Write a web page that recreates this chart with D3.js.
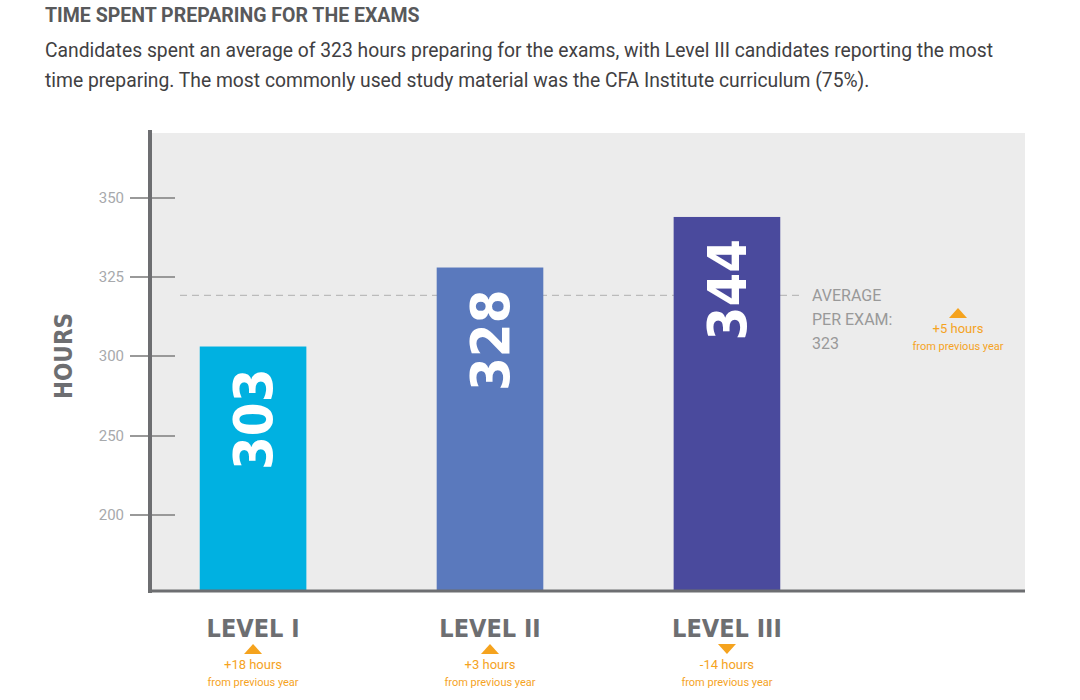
<!DOCTYPE html>
<html><head><meta charset="utf-8">
<script src="https://cdn.jsdelivr.net/npm/d3@7"></script>
<style>body{margin:0;background:#fff;font-family:Roboto,"Noto Sans",sans-serif}</style>
</head><body><svg id="c" width="1080" height="700"></svg>
<script>
var levels = ["LEVEL I", "LEVEL II", "LEVEL III"];
var hours = [303, 328, 344];
var changes = ["+18 hours", "+3 hours", "-14 hours"];
var directions = ["up", "up", "down"];
var ticks = [200, 250, 300, 325, 350];
var average = 323;
var colors = ["#00b1e1", "#5a79bd", "#4a4a9d"];

var svg = d3.select("#c");
var orange = "#f5a31e", gray = "#6d6e71";

// broken axis: ticks are evenly spaced though values are not
var y = d3.scaleLinear().domain(ticks).range([515, 436, 356, 277, 198]);
var x = d3.scaleBand().domain(levels).range([140.5, 839.5]).paddingInner(0.55).paddingOuter(0.25);
var bottom = 590;

svg.append("text").attr("x", 45).attr("y", 22).attr("fill", "#58595b")
  .style("font-size", "19.5px").style("font-weight", "bold").text("TIME SPENT PREPARING FOR THE EXAMS");
svg.append("text").attr("x", 45).attr("y", 57).attr("fill", "#414042").style("font-size", "19.3px")
  .text("Candidates spent an average of 323 hours preparing for the exams, with Level III candidates reporting the most");
svg.append("text").attr("x", 45).attr("y", 87).attr("fill", "#414042").style("font-size", "19.3px")
  .text("time preparing. The most commonly used study material was the CFA Institute curriculum (75%).");

svg.append("rect").attr("x", 150).attr("y", 133).attr("width", 875).attr("height", bottom - 133).attr("fill", "#ececec");

var tg = svg.append("g").selectAll("g").data(ticks).join("g");
tg.append("line").attr("x1", 130).attr("x2", 175).attr("y1", d => y(d)).attr("y2", d => y(d))
  .attr("stroke", "#999").attr("stroke-width", 2);
tg.append("text").attr("x", 124).attr("y", d => y(d) + 5).attr("text-anchor", "end")
  .attr("fill", "#a7a9ac").style("font-size", "15px").text(d => d);

svg.append("line").attr("x1", 180).attr("x2", 802).attr("y1", y(average) + 12).attr("y2", y(average) + 12)
  .attr("stroke", "#bbb").attr("stroke-width", 1.2).attr("stroke-dasharray", "7,5");

svg.selectAll(".bar").data(hours).join("rect")
  .attr("x", (d, i) => x(levels[i])).attr("width", x.bandwidth())
  .attr("y", d => y(d)).attr("height", d => bottom - y(d)).attr("fill", (d, i) => colors[i]);

svg.selectAll(".val").data(hours).join("text")
  .attr("transform", (d, i) => "translate(" + (x(levels[i]) + x.bandwidth() / 2 + 19) + "," + (y(d) + 22) + ") rotate(-90)")
  .attr("text-anchor", "end").attr("fill", "#fff").style("font-size", "54px").style("font-weight", "bold")
  .style("font-family", "'Liberation Sans Narrow','DejaVu Sans Condensed',Roboto").text(d => d);

svg.append("line").attr("x1", 150).attr("x2", 150).attr("y1", 130).attr("y2", 593).attr("stroke", gray).attr("stroke-width", 4);
svg.append("line").attr("x1", 148).attr("x2", 1025).attr("y1", 591).attr("y2", 591).attr("stroke", gray).attr("stroke-width", 3);

svg.append("text").attr("transform", "translate(72,356) rotate(-90)").attr("text-anchor", "middle")
  .attr("fill", gray).style("font-size", "24px").style("font-weight", "bold")
  .style("font-family", "'DejaVu Sans Condensed',Roboto").text("HOURS");

function tri(cx, cy, dir) {
  var p = dir === "up" ? [[cx - 9, cy + 5], [cx + 9, cy + 5], [cx, cy - 5]] : [[cx - 9, cy - 5], [cx + 9, cy - 5], [cx, cy + 5]];
  svg.append("path").attr("d", d3.line()(p) + "Z").attr("fill", orange);
}

levels.forEach(function (l, i) {
  var cx = x(l) + x.bandwidth() / 2;
  svg.append("text").attr("x", cx).attr("y", 637).attr("text-anchor", "middle").attr("fill", gray)
    .style("font-size", "25px").style("font-weight", "bold").style("font-family", "'DejaVu Sans Condensed',Roboto").text(l);
  tri(cx, 649, directions[i]);
  svg.append("text").attr("x", cx).attr("y", 669).attr("text-anchor", "middle").attr("fill", orange).style("font-size", "13px").text(changes[i]);
  svg.append("text").attr("x", cx).attr("y", 686).attr("text-anchor", "middle").attr("fill", orange).style("font-size", "11px").text("from previous year");
});

["AVERAGE", "PER EXAM:", "" + average].forEach(function (t, i) {
  svg.append("text").attr("x", 812).attr("y", 301 + i * 24).attr("fill", "#999").style("font-size", "16px").text(t);
});
tri(958, 313, "up");
svg.append("text").attr("x", 958).attr("y", 333).attr("text-anchor", "middle").attr("fill", orange).style("font-size", "13px").text("+5 hours");
svg.append("text").attr("x", 958).attr("y", 350).attr("text-anchor", "middle").attr("fill", orange).style("font-size", "11px").text("from previous year");
</script></body></html>
